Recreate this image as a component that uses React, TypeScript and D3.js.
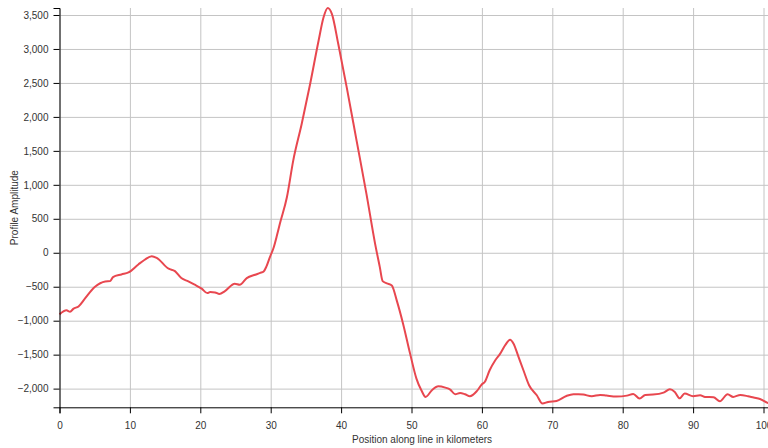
import React, { useEffect, useRef } from "react";
import * as d3 from "d3";

const positionsKm = [
  0, 1.0, 1.5, 2.0, 2.7, 3.6, 5.0, 6.5, 7.2, 7.6, 8.8, 9.8, 11.2, 12.1, 13.1, 13.8,
  15.5, 16.4, 17.3, 18.3, 19.2, 20.2, 21.0, 21.4, 22.1, 22.7, 23.5, 24.9, 25.6, 26.6,
  27.8, 28.5, 29.0, 29.4, 29.9, 30.4, 30.9, 31.3, 32.3, 33.2, 34.4, 35.6, 36.8, 37.5,
  38.1, 38.7, 39.6, 40.8, 42.2, 43.6, 44.8, 45.5, 45.9, 46.5, 47.2, 47.9, 48.8, 49.8,
  50.7, 51.4, 52.0, 52.9, 53.8, 54.8, 55.5, 56.2, 56.9, 57.6, 58.3, 59.3, 60.0, 60.4,
  61.1, 61.9, 62.6, 63.3, 64.0, 64.5, 65.2, 65.9, 66.7, 67.8, 68.6, 69.4, 70.6, 72.0,
  73.0, 73.7, 74.4, 75.6, 76.8, 77.7, 79.1, 80.6, 81.5, 82.4, 83.2, 84.3, 85.8, 86.7,
  87.4, 88.1, 88.8, 90.0, 91.0, 91.7, 92.9, 93.8, 94.9, 95.7, 96.7, 97.8, 98.6, 99.5,
  100.6, 101.8, 103.0,
];

const amplitudes = [
  -907, -848, -867, -823, -790, -676, -505, -422, -417, -358, -319, -290, -172, -103, -50, -74,
  -235, -270, -373, -422, -470, -529, -594, -579, -584, -608, -564, -456, -470, -373,
  -323, -297, -275, -200, -60, 70, 260, 426, 817, 1357, 1896, 2484, 3121, 3463,
  3603, 3513, 3072, 2434, 1651, 867, 150, -212, -417, -450, -481, -701, -1044, -1485,
  -1852, -2024, -2122, -2024, -1965, -1985, -2014, -2083, -2064, -2083, -2112, -2034, -1936, -1902,
  -1730, -1583, -1485, -1362, -1279, -1338, -1534, -1730, -1950, -2098, -2220, -2196, -2181, -2108,
  -2083, -2083, -2088, -2112, -2093, -2103, -2117, -2103, -2078, -2147, -2093, -2088, -2059, -2010,
  -2049, -2142, -2073, -2112, -2098, -2122, -2127, -2186, -2083, -2122, -2093, -2112, -2132, -2152,
  -2210, -2250, -2275,
];

const xLabel = "Position along line in kilometers";
const yLabel = "Profile Amplitude";

const W = 768;
const H = 448;
const left = 59.5;
const top = 8;
const bottom = 407.3;
const pxPerKm = 7.04;

export default function App() {
  const gx = useRef<SVGGElement>(null);
  const gy = useRef<SVGGElement>(null);
  const gridX = useRef<SVGGElement>(null);
  const gridY = useRef<SVGGElement>(null);

  const data = positionsKm.map((p, i) => ({ x: p, y: amplitudes[i] }));
  const xDomain = d3.extent(positionsKm) as [number, number];
  const right = left + (xDomain[1] - xDomain[0]) * pxPerKm;
  const x = d3.scaleLinear().domain(xDomain).range([left, right]);
  const y = d3.scaleLinear().domain(d3.extent(amplitudes) as [number, number]).range([bottom, top]);

  const line = d3
    .line<{ x: number; y: number }>()
    .x((d) => x(d.x))
    .y((d) => y(d.y))
    .curve(d3.curveMonotoneX);

  useEffect(() => {
    const font = "'Liberation Sans', Arial, sans-serif";
    const ax = d3.select(gx.current!);
    ax.call(d3.axisBottom(x).tickSize(6).tickPadding(9) as any);
    ax.selectAll("text").attr("font-size", 10).attr("font-family", font).attr("fill", "#333");
    ax.selectAll("path,line").attr("stroke", "#000");
    ax.attr("font-family", font);

    const ay = d3.select(gy.current!);
    ay.call(d3.axisLeft(y).tickSize(6).tickPadding(5) as any);
    ay.selectAll("text").attr("font-size", 10).attr("font-family", font).attr("fill", "#333");
    ay.selectAll("path,line").attr("stroke", "#000");
    ay.attr("font-family", font);

    const grx = d3.select(gridX.current!);
    grx.call(d3.axisBottom(x).tickSize(-(bottom - top)).tickFormat(() => "") as any);
    grx.select(".domain").remove();
    grx.selectAll("line").attr("stroke", "#c4c4c4").attr("stroke-width", 1);

    const gry = d3.select(gridY.current!);
    gry.call(d3.axisLeft(y).tickSize(-(right - left)).tickFormat(() => "") as any);
    gry.select(".domain").remove();
    gry.selectAll("line").attr("stroke", "#c4c4c4").attr("stroke-width", 1);
  });

  return (
    <svg
      width={W}
      height={H}
      style={{ position: "fixed", left: 0, top: 0, display: "block", background: "#fff" }}
    >
      <g ref={gridX} transform={`translate(0,${bottom})`} />
      <g ref={gridY} transform={`translate(${left},0)`} />
      <path d={line(data) ?? ""} fill="none" stroke="#e8474f" strokeWidth={2} />
      <g ref={gx} transform={`translate(0,${bottom})`} />
      <g ref={gy} transform={`translate(${left},0)`} />
      <text
        x={(left + right) / 2}
        y={443}
        textAnchor="middle"
        fontSize={10}
        fontFamily="'Liberation Sans', Arial, sans-serif"
        fill="#333"
      >
        {xLabel}
      </text>
      <text
        transform={`translate(17.5,${(top + bottom) / 2}) rotate(-90)`}
        textAnchor="middle"
        fontSize={10}
        fontFamily="'Liberation Sans', Arial, sans-serif"
        fill="#333"
      >
        {yLabel}
      </text>
    </svg>
  );
}
